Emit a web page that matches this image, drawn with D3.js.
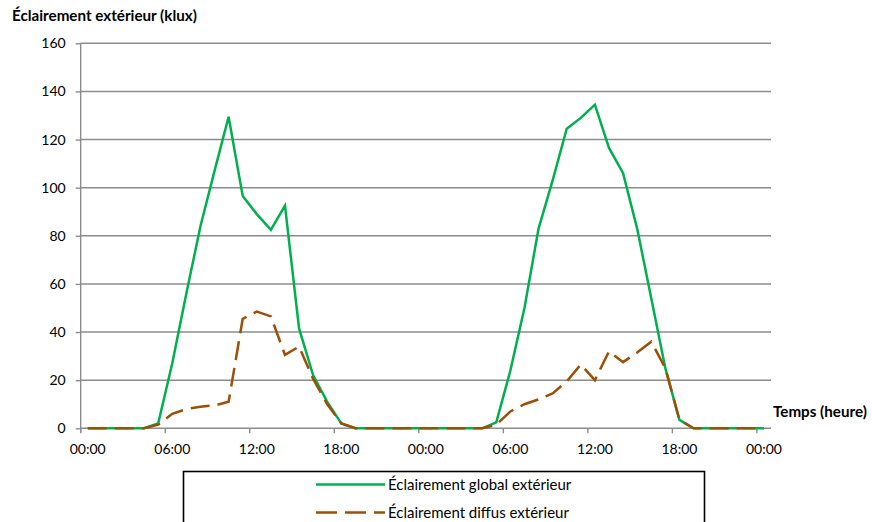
<!DOCTYPE html>
<html><head><meta charset="utf-8">
<script src="https://cdn.jsdelivr.net/npm/d3@7"></script>
<style>
html,body{margin:0;padding:0;background:#fff;}
svg{display:block;}
text{font-family:Lato,"Open Sans",sans-serif;fill:#000;}
</style></head>
<body>
<svg id="chart" width="872" height="522"></svg>
<script>
const hours = d3.range(49);
const tickLabels = ["00:00","06:00","12:00","18:00","00:00","06:00","12:00","18:00","00:00"];
const yTicks = [0,20,40,60,80,100,120,140,160];
const seriesNames = ["Éclairement global extérieur","Éclairement diffus extérieur"];
const globalLux = [0,0,0,0,0,2,27,56,84,107,129.5,96.5,89,82.5,92.5,41.5,22,11,2,0,
  0,0,0,0,0,0,0,0,0,2.5,24,50,83,103,124.5,129,134.5,116.5,106,83,54,25,3.5,0,0,0,0,0,0];
const diffuseLux = [0,0,0,0,0,1.5,6,8,9,9.5,11,45.5,48.5,46.5,30.5,34,20.5,10,2,0,
  0,0,0,0,0,0,0,0,0,1.5,7,10,12,14.5,19.5,26.5,20,32,27.5,31.5,36,25,3.5,0,0,0,0,0,0];

(function(){
const svg = d3.select("#chart");
const pLeft = 80.7, pRight = 771, pTop = 43.3, pBottom = 428.3;
const x = d3.scaleBand().domain(hours).range([pLeft, pRight]).padding(0);
const y = d3.scaleLinear().domain([0,160]).range([pBottom, pTop]);
const grey = "#8c8c8c";

svg.append("g").selectAll("line").data(yTicks.filter(d=>d>0)).join("line")
  .attr("x1", pLeft).attr("x2", pRight)
  .attr("y1", d=>y(d)).attr("y2", d=>y(d))
  .attr("stroke", grey).attr("stroke-width", 1.4);

const yAxis = svg.append("g").attr("transform", `translate(${pLeft},0)`)
  .call(d3.axisLeft(y).tickValues(yTicks).tickSize(5).tickPadding(10));
yAxis.select(".domain").attr("stroke", grey).attr("stroke-width", 1.4).attr("d", `M0,${pTop}V${pBottom+4.5}`);
yAxis.selectAll(".tick line").attr("stroke", grey).attr("stroke-width", 1.4);
yAxis.selectAll(".tick text").attr("font-size", 14).attr("font-family", "Lato,sans-serif").attr("fill", "#000");

const tickHours = hours.filter(h => h % 6 === 0);
const xg = svg.append("g");
xg.append("line").attr("x1", pLeft).attr("x2", pRight).attr("y1", pBottom).attr("y2", pBottom)
  .attr("stroke", grey).attr("stroke-width", 1.4);
xg.selectAll("line.t").data(tickHours).join("line").attr("class","t")
  .attr("x1", d=>x(d)).attr("x2", d=>x(d)).attr("y1", pBottom).attr("y2", pBottom+5)
  .attr("stroke", grey).attr("stroke-width", 1.4);
xg.selectAll("text").data(tickHours).join("text")
  .attr("x", d=>x(d)+x.bandwidth()/2).attr("y", 454)
  .attr("text-anchor","middle").attr("font-size", 14)
  .text((d,i)=>tickLabels[i]);

const line = data => d3.line().x((d,i)=>x(hours[i])+x.bandwidth()/2).y(d=>y(d))(data);
svg.append("path").attr("d", line(globalLux)).attr("fill","none")
  .attr("stroke","#00b050").attr("stroke-width",2.5).attr("stroke-linejoin","miter");
svg.append("path").attr("d", line(diffuseLux)).attr("fill","none")
  .attr("stroke","#9c4f06").attr("stroke-width",2.5).attr("stroke-dasharray","19,8");

svg.append("text").attr("x", 12).attr("y", 21).attr("font-size", 15.2).attr("font-weight","bold")
  .text("Éclairement extérieur (klux)");
svg.append("text").attr("x", 773).attr("y", 417).attr("font-size", 15.2).attr("font-weight","bold")
  .text("Temps (heure)");

const lg = svg.append("g");
lg.append("rect").attr("x",183.5).attr("y",471.5).attr("width",521).attr("height",70)
  .attr("fill","none").attr("stroke","#000").attr("stroke-width",1.6);
const rowsY = [484.5, 512.5];
lg.append("line").attr("x1",316).attr("x2",385).attr("y1",rowsY[0]).attr("y2",rowsY[0])
  .attr("stroke","#00b050").attr("stroke-width",2.5);
lg.append("line").attr("x1",316).attr("x2",385).attr("y1",rowsY[1]).attr("y2",rowsY[1])
  .attr("stroke","#9c4f06").attr("stroke-width",2.5).attr("stroke-dasharray","21,8");
lg.selectAll("text").data(seriesNames).join("text")
  .attr("x",388).attr("y",(d,i)=>rowsY[i]+5).attr("font-size",15).text(d=>d);
})();
</script>
</body></html>
